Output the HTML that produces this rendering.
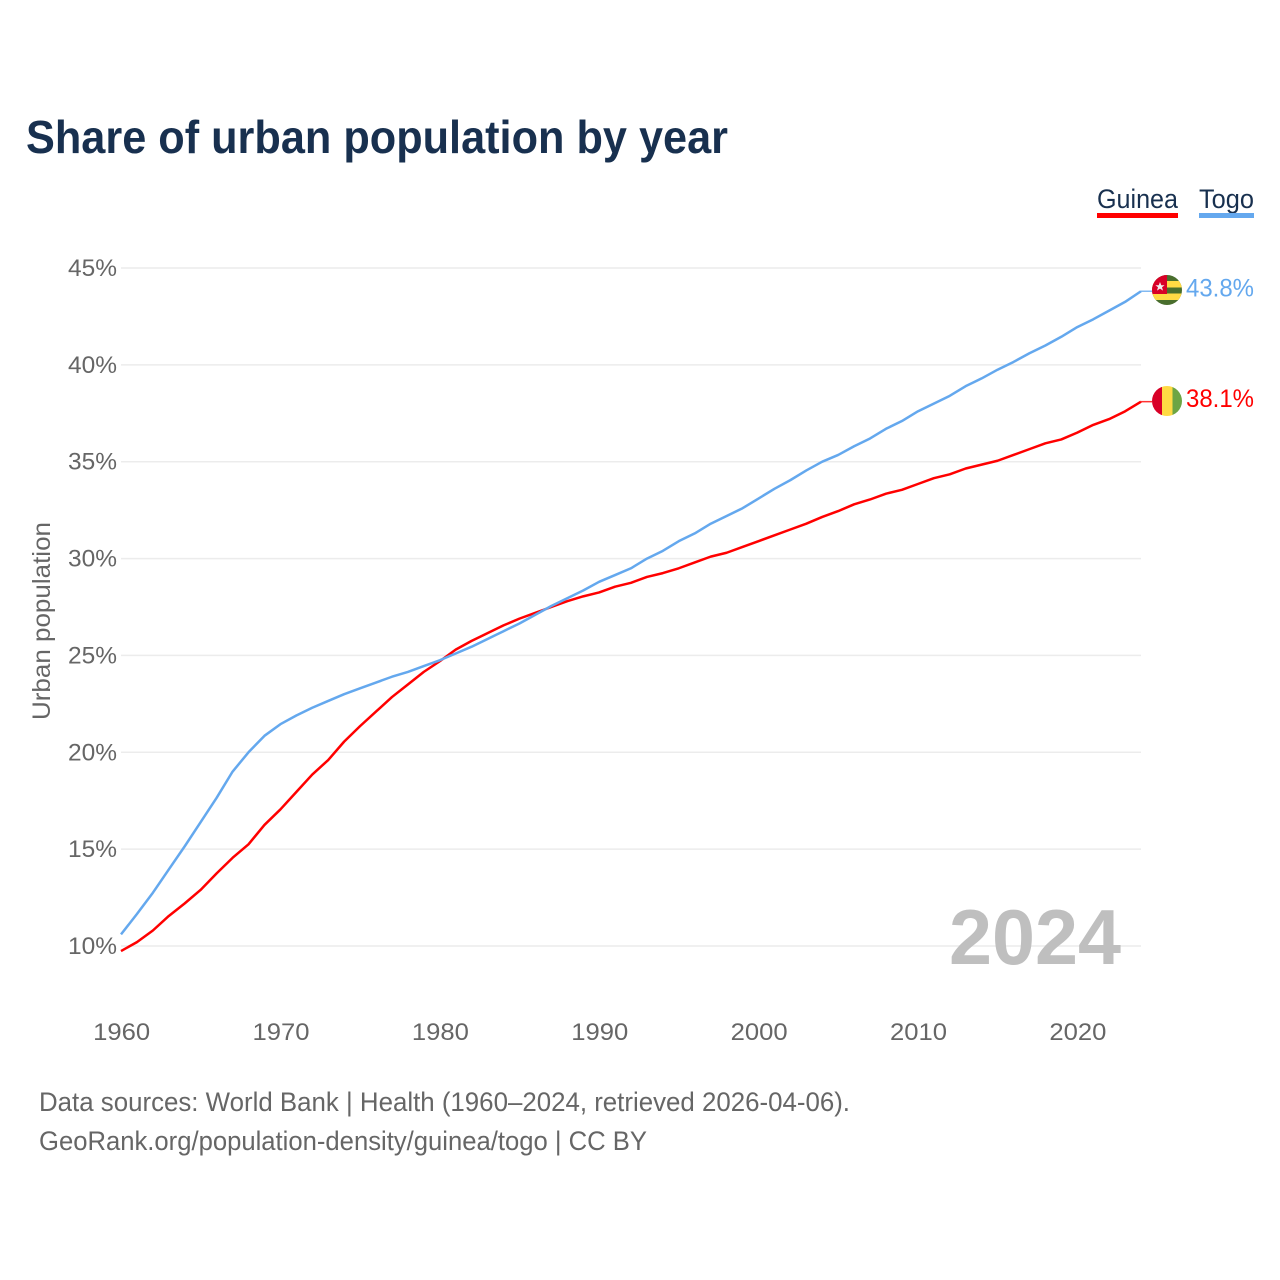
<!DOCTYPE html>
<html lang="en">
<head>
<meta charset="utf-8">
<title>Share of urban population by year</title>
<style>
html,body{margin:0;padding:0;background:#fff;}
svg{display:block;font-family:"Liberation Sans",sans-serif;}
</style>
</head>
<body>
<svg id="chart" width="1280" height="1280" viewBox="0 0 1280 1280" xmlns="http://www.w3.org/2000/svg">
  <rect width="1280" height="1280" fill="#ffffff"/>
  <defs>
    <clipPath id="flag-clip-togo"><circle cx="1167" cy="290" r="15"/></clipPath>
    <clipPath id="flag-clip-guinea"><circle cx="1167" cy="401" r="15"/></clipPath>
  </defs>
  <text x="26" y="153" font-size="46" font-weight="700" fill="#18304f" textLength="702" lengthAdjust="spacingAndGlyphs">Share of urban population by year</text>

  <g id="grid"></g>
  <g id="yticks"></g>
  <g id="xticks"></g>
  <text transform="translate(50 720) rotate(-90)" font-size="25" fill="#666666" textLength="198" lengthAdjust="spacingAndGlyphs">Urban population</text>

  <text x="949" y="964" font-size="78" font-weight="700" fill="#bfbfbf" textLength="172" lengthAdjust="spacingAndGlyphs">2024</text>

  <g id="series"></g>

  <g id="flag-togo" clip-path="url(#flag-clip-togo)">
    <rect x="1152" y="275" width="30" height="30" fill="#496e2d"/>
    <rect x="1152" y="281" width="30" height="6.5" fill="#ffda44"/>
    <rect x="1152" y="293.5" width="30" height="6.5" fill="#ffda44"/>
    <rect x="1152" y="275" width="15" height="19" fill="#d80027"/>
    <polygon points="1160,282 1161.3,285.2 1164.6,285.2 1162,287.3 1163,290.6 1160,288.6 1157,290.6 1158,287.3 1155.4,285.2 1158.7,285.2" fill="#f0f0f0"/>
  </g>
  <g id="flag-guinea" clip-path="url(#flag-clip-guinea)">
    <rect x="1152" y="386" width="10" height="30" fill="#d80027"/>
    <rect x="1162" y="386" width="10.5" height="30" fill="#ffda44"/>
    <rect x="1172.5" y="386" width="9.5" height="30" fill="#6da544"/>
  </g>

  <g>
    <text x="1097" y="208" font-size="27" fill="#18304f" textLength="81" lengthAdjust="spacingAndGlyphs">Guinea</text>
    <rect x="1097" y="213" width="81" height="5" fill="#ff0000"/>
    <text x="1199" y="208" font-size="27" fill="#18304f" textLength="55" lengthAdjust="spacingAndGlyphs">Togo</text>
    <rect x="1199" y="213" width="55" height="5" fill="#64a8ee"/>
  </g>

  <g>
    <text x="39" y="1111" font-size="27" fill="#666666" textLength="811" lengthAdjust="spacingAndGlyphs">Data sources: World Bank | Health (1960–2024, retrieved 2026-04-06).</text>
    <text x="39" y="1150" font-size="27" fill="#666666" textLength="608" lengthAdjust="spacingAndGlyphs">GeoRank.org/population-density/guinea/togo | CC BY</text>
  </g>
</svg>
<script>
const startYear = 1960;
const yTickValues = [10, 15, 20, 25, 30, 35, 40, 45];
const xTickYears = [1960, 1970, 1980, 1990, 2000, 2010, 2020];
const guineaValues = [9.74,10.2,10.8,11.55,12.2,12.9,13.75,14.55,15.25,16.25,17.05,17.95,18.85,19.6,20.55,21.35,22.1,22.85,23.5,24.15,24.7,25.3,25.75,26.15,26.55,26.9,27.2,27.5,27.8,28.05,28.25,28.55,28.75,29.05,29.25,29.5,29.8,30.1,30.3,30.6,30.9,31.2,31.5,31.8,32.15,32.45,32.8,33.05,33.35,33.55,33.85,34.15,34.35,34.65,34.85,35.05,35.35,35.65,35.95,36.15,36.5,36.9,37.2,37.6,38.1];
const togoValues = [10.6,11.65,12.75,13.95,15.15,16.4,17.65,19.0,20.0,20.85,21.45,21.9,22.3,22.65,23.0,23.3,23.6,23.9,24.15,24.45,24.75,25.1,25.45,25.85,26.25,26.65,27.1,27.55,27.95,28.35,28.8,29.15,29.5,30.0,30.4,30.9,31.3,31.8,32.2,32.6,33.1,33.6,34.05,34.55,35.0,35.35,35.8,36.2,36.7,37.1,37.6,38.0,38.4,38.9,39.3,39.75,40.15,40.6,41.0,41.45,41.95,42.35,42.8,43.25,43.8];

const NS = 'http://www.w3.org/2000/svg';
function xScale(year) { return 121 + (year - 1960) * (1141 - 121) / 64; }
function yScale(v) { return 946 - (v - 10) * (946 - 268) / 35; }
function make(tag, attrs, parent, text) {
  const el = document.createElementNS(NS, tag);
  for (const k in attrs) el.setAttribute(k, attrs[k]);
  if (text !== undefined) el.textContent = text;
  parent.appendChild(el);
  return el;
}

const gridG = document.getElementById('grid');
const yG = document.getElementById('yticks');
const xG = document.getElementById('xticks');
const seriesG = document.getElementById('series');

yTickValues.forEach(function (v) {
  const line = make('line', {x1: 121, x2: 1141, y1: yScale(v), y2: yScale(v), stroke: '#ececec', 'stroke-width': 1.5}, gridG);
  
  
  const label = make('text', {x: 68, y: yScale(v) + 8, 'font-size': 24, fill: '#666666', textLength: 49, lengthAdjust: 'spacingAndGlyphs'}, yG, v + '%');
  
  
});

xTickYears.forEach(function (yr) {
  const label = make('text', {x: xScale(yr) - 27.8, y: 1040, 'font-size': 24, fill: '#666666', textLength: 57, lengthAdjust: 'spacingAndGlyphs'}, xG, String(yr));
  
  
});

function drawSeries(values, color, key) {
  const pts = values.map(function (v, i) { return xScale(startYear + i).toFixed(2) + ',' + yScale(v).toFixed(2); }).join(' ');
  const path = make('polyline', {points: pts, fill: 'none', stroke: color, 'stroke-width': 2.5, 'stroke-linejoin': 'round'}, seriesG);
  
  
  const last = values[values.length - 1];
  const ly = yScale(last);
  const tail = make('line', {x1: xScale(2024), x2: 1152, y1: ly, y2: ly, stroke: color, 'stroke-width': 1.5, opacity: 0.8}, seriesG);
  
  
  const label = make('text', {x: 1186, y: ly + 5.5, 'font-size': 25, fill: color, textLength: 68, lengthAdjust: 'spacingAndGlyphs'}, seriesG, last.toFixed(1) + '%');
  
  
}
drawSeries(guineaValues, '#ff0000', 'guinea');
drawSeries(togoValues, '#64a8ee', 'togo');
</script>
</body>
</html>
